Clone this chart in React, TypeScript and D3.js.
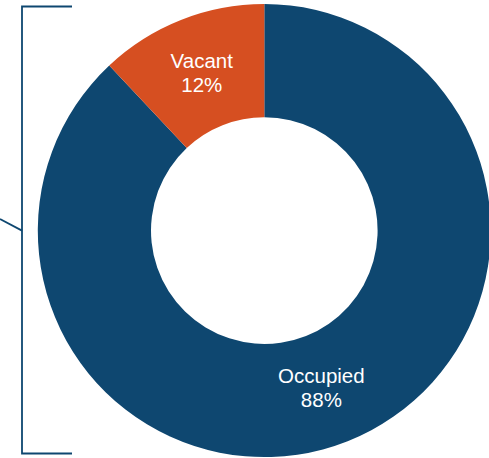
import React from "react";
import * as d3 from "d3";

const categories = ["Occupied", "Vacant"];
const values = [88, 12];
const colors = ["#0E4770", "#D64F21"];

const W = 489;
const H = 458;

export default function App() {
  const cx = 264.3;
  const cy = 230.6;
  const outerR = 226.5;
  const innerR = 113.3;
  const data = categories.map((c, i) => ({ name: c, value: values[i], color: colors[i] }));
  const pie = d3.pie<any>().value((d) => d.value).sort(null);
  const arcs = pie(data);
  const arc = d3.arc<any>().innerRadius(innerR).outerRadius(outerR);
  const labelArc = d3.arc<any>().innerRadius(innerR).outerRadius(outerR - 8);
  const total = d3.sum(values);
  const fmt = d3.format(".0%");
  return (
    <svg width={W} height={H} style={{ position: "absolute", left: 0, top: 0 }}>
      <g transform={`translate(${cx},${cy})`}>
        {arcs.map((a, i) => (
          <path key={i} d={arc(a) as string} fill={a.data.color} />
        ))}
        {arcs.map((a, i) => {
          const c = i === 0 ? labelArc.centroid(a) : arc.centroid(a);
          const x = c[0] + (i === 0 ? -4 : 0);
          const y = c[1] + (i === 0 ? 3 : 0);
          return (
            <text
              key={"t" + i}
              x={x}
              y={y}
              fill="#fff"
              fontFamily="'Liberation Sans', Arial, sans-serif"
              fontSize={20.5}
              textAnchor="middle"
            >
              <tspan x={x} dy="-0.25em">{a.data.name}</tspan>
              <tspan x={x} dy="1.2em">{fmt(a.data.value / total)}</tspan>
            </text>
          );
        })}
      </g>
      <g fill="none" stroke="#0E4770" strokeWidth={1.8}>
        <polyline points="72,6.5 22,6.5 22,453.5 72,453.5" />
        <line x1={0} y1={219} x2={22} y2={230.6} />
      </g>
    </svg>
  );
}
